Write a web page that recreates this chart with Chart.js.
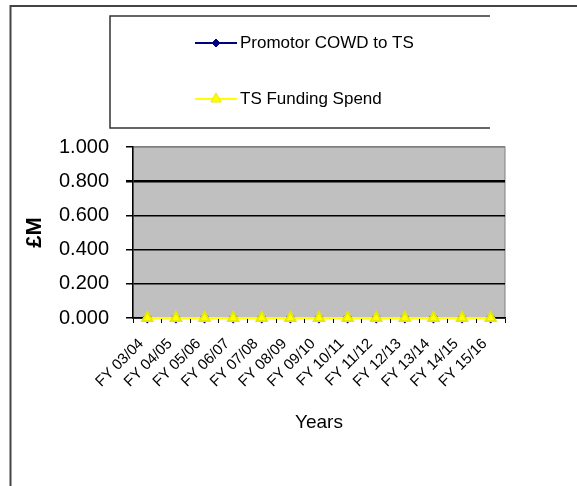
<!DOCTYPE html>
<html>
<head>
<meta charset="utf-8">
<script src="https://cdn.jsdelivr.net/npm/chart.js@4/dist/chart.umd.min.js"></script>
<style>
  html, body { margin: 0; padding: 0; background: #fff; }
  #wrap { width: 577px; height: 486px; }
</style>
</head>
<body>
<div id="wrap"><canvas id="chart" width="577" height="486"></canvas></div>
<script>
// Podaci grafa
const years = ["FY 03/04", "FY 04/05", "FY 05/06", "FY 06/07", "FY 07/08", "FY 08/09", "FY 09/10",
  "FY 10/11", "FY 11/12", "FY 12/13", "FY 13/14", "FY 14/15", "FY 15/16"];
const promotorCowd = [0, 0, 0, 0, 0, 0, 0, 0, 0, 0, 0, 0, 0];
const tsFundingSpend = [0, 0, 0, 0, 0, 0, 0, 0, 0, 0, 0, 0, 0];
const yTicks = [0, 0.2, 0.4, 0.6, 0.8, 1.0];

const fontFam = "'Liberation Sans', Arial, sans-serif";

// Pozadina, okviri i legenda
const framePlugin = {
  id: "frame",
  beforeDraw(chart) {
    const ctx = chart.ctx;
    const a = chart.chartArea;
    ctx.save();
    ctx.fillStyle = "#c0c0c0";
    ctx.fillRect(a.left, a.top, a.right - a.left, a.bottom - a.top);
    ctx.strokeStyle = "#808080";
    ctx.lineWidth = 1;
    ctx.strokeRect(a.left, a.top, a.right - a.left, a.bottom - a.top);
    ctx.restore();
  },
  afterDraw(chart) {
    const ctx = chart.ctx;
    ctx.save();
    // vanjski okvir
    ctx.strokeStyle = "#444";
    ctx.lineWidth = 2;
    ctx.beginPath();
    ctx.moveTo(577, 6);
    ctx.lineTo(10.5, 6);
    ctx.lineTo(10.5, 486);
    ctx.stroke();
    // okvir legende
    ctx.strokeStyle = "#333";
    ctx.lineWidth = 1.5;
    ctx.beginPath();
    ctx.moveTo(490, 16);
    ctx.lineTo(110, 16);
    ctx.lineTo(110, 128);
    ctx.lineTo(490, 128);
    ctx.stroke();
    // stavke legende
    const rows = [43, 99];
    chart.data.datasets.forEach(function (ds, i) {
      const y = rows[i];
      ctx.strokeStyle = ds.borderColor;
      ctx.lineWidth = 2;
      ctx.beginPath();
      ctx.moveTo(195, y);
      ctx.lineTo(237, y);
      ctx.stroke();
      ctx.fillStyle = ds.pointBackgroundColor;
      ctx.strokeStyle = ds.pointBorderColor;
      ctx.lineWidth = 1;
      Chart.helpers.drawPoint(ctx, {
        pointStyle: ds.pointStyle, radius: ds.pointRadius, rotation: 0, borderWidth: 1
      }, 216, y);
      ctx.fillStyle = "#000";
      ctx.font = "17px " + fontFam;
      ctx.textBaseline = "middle";
      ctx.textAlign = "left";
      ctx.fillText(ds.label, 240, y);
    });
    ctx.restore();
  }
};

new Chart(document.getElementById("chart"), {
  type: "line",
  data: {
    labels: years,
    datasets: [
      {
        label: "Promotor COWD to TS",
        data: promotorCowd,
        borderColor: "#000080",
        backgroundColor: "#000080",
        pointBackgroundColor: "#000080",
        pointBorderColor: "#000080",
        pointStyle: "rectRot",
        pointRadius: 4,
        borderWidth: 2,
        order: 1,
        clip: false
      },
      {
        label: "TS Funding Spend",
        data: tsFundingSpend,
        borderColor: "#ffff00",
        backgroundColor: "#ffff00",
        pointBackgroundColor: "#ffff00",
        pointBorderColor: "#e8e800",
        pointStyle: "triangle",
        pointRadius: 6,
        borderWidth: 2,
        order: 0,
        clip: false
      }
    ]
  },
  options: {
    responsive: false,
    animation: false,
    events: [],
    layout: { padding: { top: 147, left: 10, right: 72, bottom: 40 } },
    plugins: { legend: { display: false }, tooltip: { enabled: false } },
    scales: {
      x: {
        offset: true,
        grid: {
          offset: true,
          drawOnChartArea: false,
          drawTicks: true,
          tickLength: 5,
          color: "#000"
        },
        border: { color: "#000", width: 1.5 },
        ticks: {
          autoSkip: false,
          maxRotation: 45,
          minRotation: 45,
          color: "#000",
          padding: 12,
          labelOffset: -6,
          font: { family: fontFam, size: 15 }
        },
        title: {
          display: true,
          text: "Years",
          color: "#000",
          padding: { top: 0, bottom: 11.6 },
          font: { family: fontFam, size: 19 }
        },
        afterFit: function (s) { s.height = 486 - 40 - 318; }
      },
      y: {
        min: 0,
        max: 1,
        afterBuildTicks: function (s) {
          s.ticks = yTicks.map(function (v) { return { value: v }; });
        },
        grid: {
          color: function (c) { return c.tick && c.tick.value === 1 ? "#808080" : "#000"; },
          lineWidth: function (c) { return c.tick && Math.abs(c.tick.value - 0.8) < 1e-9 ? 2.5 : 1.5; },
          tickLength: 7,
          tickColor: "#000"
        },
        border: { color: "#000", width: 1.5 },
        ticks: {
          color: "#000",
          padding: 17,
          font: { family: fontFam, size: 20 },
          callback: function (v) { return Number(v).toFixed(3); }
        },
        title: {
          display: true,
          text: "£M",
          color: "#000",
          padding: { top: 12, bottom: 0 },
          font: { family: fontFam, size: 22, weight: "bold" }
        },
        afterFit: function (s) { s.width = 133 - 10; }
      }
    }
  },
  plugins: [framePlugin]
});
</script>
</body>
</html>
